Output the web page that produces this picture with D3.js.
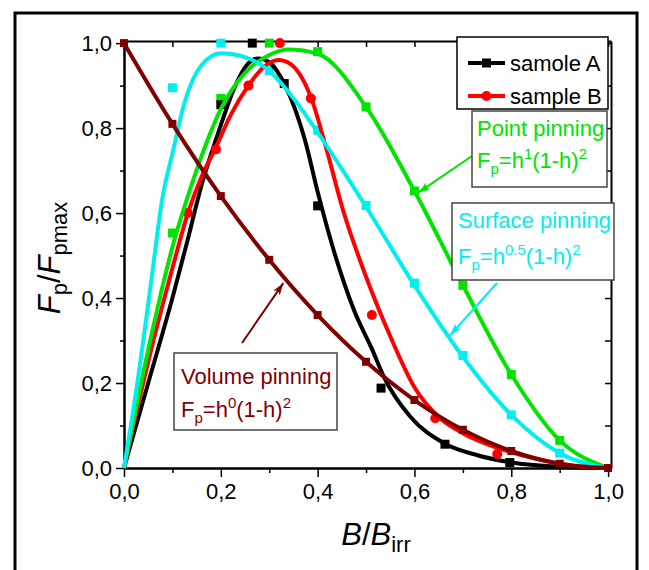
<!DOCTYPE html>
<html>
<head>
<meta charset="utf-8">
<script src="https://cdn.jsdelivr.net/npm/d3@7"></script>
<style>
  body { margin: 0; background: #fff; }
  svg text { font-family: "Liberation Sans", Arial, sans-serif; }
</style>
</head>
<body>
<svg id="chart" width="649" height="570"></svg>
<script>
// measured points, sample A and B
const sampleA = [[0,0],[0.2,0.855],[0.265,1.0],[0.331,0.905],[0.4,0.617],[0.531,0.188],[0.663,0.056],[0.797,0.013]];
const sampleB = [[0,0],[0.132,0.6],[0.19,0.75],[0.257,0.9],[0.322,1.0],[0.386,0.87],[0.512,0.36],[0.643,0.117],[0.771,0.033]];

// model points (h = B/Birr)
const hGrid = [0,0.1,0.2,0.3,0.4,0.5,0.6,0.7,0.8,0.9,1.0];
const pointVals   = [0,0.553,0.87,1.0,0.98,0.85,0.652,0.43,0.22,0.065,0];
const surfaceVals = [0,0.895,1.0,0.935,0.795,0.618,0.435,0.265,0.125,0.035,0];
const volumeVals  = [1.0,0.81,0.64,0.49,0.36,0.25,0.16,0.09,0.04,0.01,0];

// fitted curves
const fitA = [[0,0],[0.05,0.2],[0.1,0.4],[0.13,0.53],[0.16,0.665],[0.195,0.79],[0.23,0.9],[0.25,0.943],[0.277,0.964],[0.3,0.955],[0.333,0.9],[0.375,0.767],[0.4,0.65],[0.433,0.513],[0.475,0.372],[0.513,0.278],[0.537,0.214],[0.592,0.12],[0.66,0.059],[0.73,0.03],[0.8,0.013],[0.9,0.003],[1,0]];
const fitB = [[0,0],[0.05,0.25],[0.1,0.47],[0.132,0.6],[0.16,0.685],[0.19,0.755],[0.22,0.83],[0.257,0.9],[0.29,0.945],[0.319,0.96],[0.345,0.95],[0.364,0.925],[0.387,0.87],[0.416,0.76],[0.453,0.605],[0.5,0.45],[0.55,0.31],[0.6,0.19],[0.65,0.12],[0.7,0.082],[0.75,0.056],[0.8,0.037],[0.85,0.022],[0.9,0.01],[0.95,0.003],[1,0]];
const fitPoint = [[0,0],[0.03,0.17],[0.06,0.33],[0.1,0.52],[0.136,0.654],[0.167,0.755],[0.2,0.845],[0.25,0.93],[0.3,0.972],[0.34,0.985],[0.4,0.975],[0.5,0.85],[0.6,0.652],[0.7,0.43],[0.8,0.22],[0.9,0.065],[1,0]];
const fitSurface = [[0,0],[0.025,0.18],[0.054,0.42],[0.08,0.64],[0.1,0.74],[0.125,0.86],[0.16,0.948],[0.2,0.976],[0.25,0.967],[0.3,0.935],[0.35,0.87],[0.4,0.79],[0.5,0.615],[0.6,0.43],[0.7,0.262],[0.8,0.125],[0.9,0.035],[1,0]];

const xMajor = [0,0.2,0.4,0.6,0.8,1.0];
const xMinor = [0.1,0.3,0.5,0.7,0.9];
const legendLabels = ["samole A","sample B"];

const C = { a: "#000000", b: "#ff0000", point: "#00e400", surface: "#00eeee", volume: "#800000" };

const svg = d3.select("#chart");
const x = d3.scaleLinear().domain([0,1.006]).range([124,611]);
const y = d3.scaleLinear().domain([0,1.005]).range([468,41]);
const fmt = d => d3.format(".1f")(d).replace(".", ",");

// outer frame
svg.append("rect").attr("x",15).attr("y",13).attr("width",622).attr("height",580)
  .attr("fill","none").attr("stroke","#000").attr("stroke-width",3);

// axes
function styleAxis(g){
  g.selectAll("path.domain").attr("stroke","#000").attr("stroke-width",2);
  g.selectAll(".tick line").attr("stroke","#000").attr("stroke-width",1.5);
  g.selectAll(".tick text").attr("font-size",22).attr("fill","#000")
    .attr("font-family","Liberation Sans, Arial, sans-serif");
}
svg.append("g").attr("transform","translate(0,468)")
  .call(d3.axisBottom(x).tickValues(xMajor).tickFormat(fmt).tickSize(9).tickSizeOuter(0).tickPadding(6))
  .call(styleAxis);
svg.append("g").attr("transform","translate(0,468)")
  .call(d3.axisBottom(x).tickValues(xMinor).tickFormat("").tickSize(5).tickSizeOuter(0))
  .call(styleAxis);
svg.append("g").attr("transform","translate(124,0)")
  .call(d3.axisLeft(y).tickValues(xMajor).tickFormat(fmt).tickSize(8).tickSizeOuter(0).tickPadding(4))
  .call(styleAxis);
svg.append("g").attr("transform","translate(124,0)")
  .call(d3.axisLeft(y).tickValues(xMinor).tickFormat("").tickSize(4).tickSizeOuter(0))
  .call(styleAxis);
svg.append("g").attr("transform","translate(0,41)")
  .call(d3.axisTop(x).tickValues(xMajor.concat(xMinor)).tickFormat("").tickSize(-6).tickSizeOuter(0))
  .call(styleAxis);
svg.append("g").attr("transform","translate(611,0)")
  .call(d3.axisRight(y).tickValues(xMajor.concat(xMinor)).tickFormat("").tickSize(-6).tickSizeOuter(0))
  .call(styleAxis);

const line = d3.line().x(d => x(d[0])).y(d => y(d[1])).curve(d3.curveMonotoneX);
const plot = svg.append("g");

function squares(data, color, s){
  plot.selectAll(null).data(data).enter().append("rect")
    .attr("x", d => x(d[0]) - s/2).attr("y", d => y(d[1]) - s/2)
    .attr("width", s).attr("height", s).attr("fill", color);
}
function curve(data, color, w){
  plot.append("path").datum(data).attr("d", line)
    .attr("fill","none").attr("stroke",color).attr("stroke-width",w);
}

const pointPts = hGrid.map((h,i) => [h, pointVals[i]]).filter(d => d[0] > 0 && d[0] < 1);
const surfPts = hGrid.map((h,i) => [h, surfaceVals[i]]).filter(d => d[0] > 0 && d[0] < 1);
const volPts = hGrid.map((h,i) => [h, volumeVals[i]]);

squares(pointPts, C.point, 9);
squares(surfPts, C.surface, 9);

curve(fitA, C.a, 4);
squares(sampleA.slice(1), C.a, 9);
curve(fitB, C.b, 4);
plot.selectAll(null).data(sampleB.slice(1)).enter().append("circle")
  .attr("cx", d => x(d[0])).attr("cy", d => y(d[1])).attr("r", 5).attr("fill", C.b);
curve(fitPoint, C.point, 4);
curve(fitSurface, C.surface, 4);
curve(volPts, C.volume, 4);
squares(volPts, C.volume, 8);

// arrows
const defs = svg.append("defs");
[["point",C.point],["surface",C.surface],["volume",C.volume]].forEach(([k,c]) => {
  defs.append("marker").attr("id","arr-"+k).attr("viewBox","0 0 12 8")
    .attr("refX",12).attr("refY",4).attr("markerWidth",12).attr("markerHeight",8)
    .attr("markerUnits","userSpaceOnUse").attr("orient","auto")
    .append("path").attr("d","M0,0 L12,4 L0,8 L3,4 Z").attr("fill",c);
});
function arrow(x1,y1,h,v,k,c){
  svg.append("line").attr("x1",x1).attr("y1",y1).attr("x2",x(h)).attr("y2",y(v))
    .attr("stroke",c).attr("stroke-width",2).attr("marker-end","url(#arr-"+k+")");
}
arrow(472,156,0.608,0.648,"point",C.point);
arrow(497,283,0.674,0.313,"surface",C.surface);
arrow(242,343,0.329,0.435,"volume",C.volume);

// annotation boxes
function box(x0,y0,w,h,stroke){
  svg.append("rect").attr("x",x0).attr("y",y0).attr("width",w).attr("height",h)
    .attr("fill","#fff").attr("stroke",stroke).attr("stroke-width",1.5);
}
function formula(tx,ty,exp,color){
  const t = svg.append("text").attr("x",tx).attr("y",ty).attr("font-size",22).attr("fill",color);
  t.append("tspan").text("F");
  t.append("tspan").attr("font-size",15).attr("dy",6).text("p");
  t.append("tspan").attr("dy",-6).text("=h");
  t.append("tspan").attr("font-size",15).attr("dy",-9).text(exp);
  t.append("tspan").attr("dy",9).text("(1-h)");
  t.append("tspan").attr("font-size",15).attr("dy",-9).text("2");
}

box(472,111,135,76,"#444");
svg.append("text").attr("x",477).attr("y",136).attr("font-size",22).attr("fill",C.point).text("Point pinning");
formula(477,168,"1",C.point);

box(452,203,162,77,"#444");
svg.append("text").attr("x",458).attr("y",228).attr("font-size",22).attr("fill",C.surface).text("Surface pinning");
formula(458,264,"0.5",C.surface);

box(174,353,163,77,"#444");
svg.append("text").attr("x",181).attr("y",384).attr("font-size",22).attr("fill",C.volume).text("Volume pinning");
formula(181,417,"0",C.volume);

// legend
box(457,37,151,72,"#000");
[[C.a,"sq"],[C.b,"ci"]].forEach(([c,m],i) => {
  const ly = 63 + i*33;
  svg.append("line").attr("x1",468).attr("x2",505).attr("y1",ly).attr("y2",ly)
    .attr("stroke",c).attr("stroke-width",4);
  if (m === "sq") svg.append("rect").attr("x",482).attr("y",ly-4.5).attr("width",9).attr("height",9).attr("fill",c);
  else svg.append("circle").attr("cx",486.5).attr("cy",ly).attr("r",5).attr("fill",c);
  svg.append("text").attr("x",510).attr("y",ly+8).attr("font-size",22).attr("fill","#000").text(legendLabels[i]);
});

// axis titles
const xt = svg.append("text").attr("x",376).attr("y",545).attr("text-anchor","middle").attr("font-size",31);
xt.append("tspan").attr("font-style","italic").text("B");
xt.append("tspan").text("/");
xt.append("tspan").attr("font-style","italic").text("B");
xt.append("tspan").attr("font-size",22).attr("dy",7).text("irr");

const yt = svg.append("text").attr("transform","translate(60,258) rotate(-90)").attr("text-anchor","middle").attr("font-size",31);
yt.append("tspan").attr("font-style","italic").text("F");
yt.append("tspan").attr("font-size",22).attr("dy",7).text("p");
yt.append("tspan").attr("dy",-7).text("/");
yt.append("tspan").attr("font-style","italic").text("F");
yt.append("tspan").attr("font-size",22).attr("dy",7).text("pmax");
</script>
</body>
</html>
